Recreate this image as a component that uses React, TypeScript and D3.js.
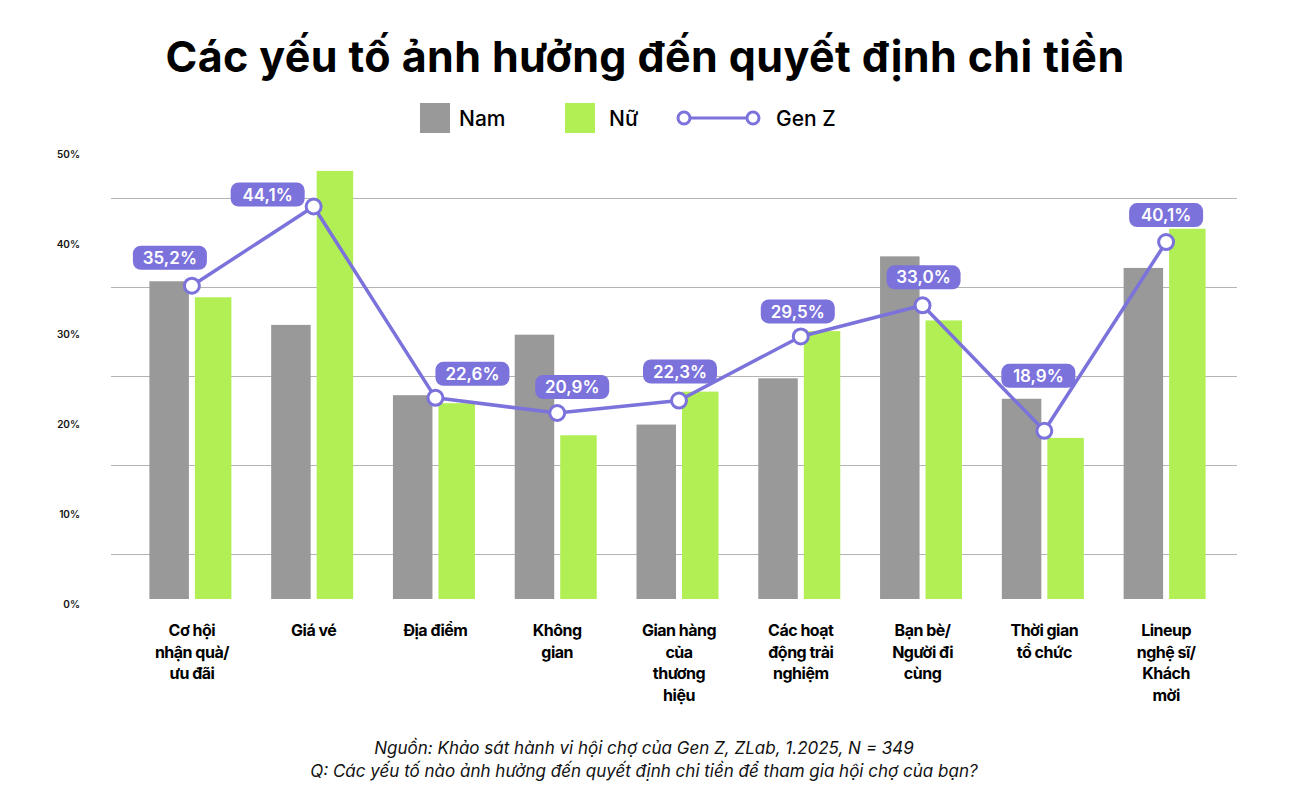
import React from "react";
import * as d3 from "d3";

const categories: string[][] = [
  ["Cơ hội", "nhận quà/", "ưu đãi"],
  ["Giá vé"],
  ["Địa điểm"],
  ["Không", "gian"],
  ["Gian hàng", "của", "thương", "hiệu"],
  ["Các hoạt", "động trải", "nghiệm"],
  ["Bạn bè/", "Người đi", "cùng"],
  ["Thời gian", "tổ chức"],
  ["Lineup", "nghệ sĩ/", "Khách", "mời"],
];
const namValues = [35.7, 30.8, 22.9, 29.7, 19.6, 24.8, 38.5, 22.5, 37.2];
const nuValues = [33.9, 48.1, 22.0, 18.4, 23.3, 30.1, 31.3, 18.1, 41.6];
const genZValues = [35.2, 44.1, 22.6, 20.9, 22.3, 29.5, 33.0, 18.9, 40.1];
const genZLabels = ["35,2%", "44,1%", "22,6%", "20,9%", "22,3%", "29,5%", "33,0%", "18,9%", "40,1%"];
const yTicks = [0, 10, 20, 30, 40, 50];
const gridValues = [5, 15, 25, 35, 45];
const seriesNames = ["Nam", "Nữ", "Gen Z"];
const title = "Các yếu tố ảnh hưởng đến quyết định chi tiền";
const footer = [
  "Nguồn: Khảo sát hành vi hội chợ của Gen Z, ZLab, 1.2025, N = 349",
  "Q: Các yếu tố nào ảnh hưởng đến quyết định chi tiền để tham gia hội chợ của bạn?",
];

// label badge offsets (layout)
const badgeOffsets: [number, number][] = [
  [-22, -28], [-46, -12], [37, -24], [15, -26], [1, -29], [-3, -25], [1, -28], [-6, -55], [0, -27],
];

const W = 1291;
const H = 812;
const GRAY = "#999999";
const GREEN = "#b1ef55";
const PURPLE = "#7b72db";
const FONT = "Inter, 'Noto Sans', sans-serif";

export default function App() {
  const idx = categories.map((_, i) => String(i));
  const x = d3.scaleBand<string>().domain(idx).range([131, 1227]).padding(0);
  const y = d3.scaleLinear().domain([0, 50]).range([599, 154]);
  const yLab = d3.scaleLinear().domain([0, 50]).range([604, 154]);
  const cx = (i: number) => (x(String(i)) as number) + x.bandwidth() / 2;

  const line = d3
    .line<number>()
    .x((_, i) => cx(i))
    .y((d) => y(d));

  const namW = 39.5;
  const nuW = 36.5;

  return (
    <svg
      width={W}
      height={H}
      viewBox={`0 0 ${W} ${H}`}
      style={{ position: "absolute", left: 0, top: 0, background: "#fff" }}
      fontFamily={FONT}
    >
      <rect width={W} height={H} fill="#fff" />
      <text x={645} y={72} textAnchor="middle" fontSize={43} fontWeight={700} letterSpacing={0.4} fill="#000">
        {title}
      </text>

      {/* legend */}
      <rect x={420} y={103} width={30} height={30} fill={GRAY} />
      <text x={459} y={125.5} fontSize={21} fontWeight={500} fill="#000">{seriesNames[0]}</text>
      <rect x={565} y={103} width={30} height={30} fill={GREEN} />
      <text x={609} y={125.5} fontSize={21} fontWeight={500} fill="#000">{seriesNames[1]}</text>
      <line x1={683} x2={753} y1={118} y2={118} stroke={PURPLE} strokeWidth={3} />
      <circle cx={684} cy={118} r={6} fill="#fff" stroke={PURPLE} strokeWidth={3} />
      <circle cx={753} cy={118} r={6} fill="#fff" stroke={PURPLE} strokeWidth={3} />
      <text x={776} y={125.5} fontSize={21} fontWeight={500} fill="#000">{seriesNames[2]}</text>

      {/* y tick labels */}
      {yTicks.map((t) => (
        <text key={t} x={80} y={yLab(t)} dy="0.35em" textAnchor="end" fontSize={10} fontWeight={600} fill="#111">
          {t}%
        </text>
      ))}

      {/* grid */}
      {gridValues.map((g) => (
        <line key={g} x1={111} x2={1237} y1={y(g)} y2={y(g)} stroke="#b3b3b3" strokeWidth={1} />
      ))}

      {/* bars */}
      {namValues.map((v, i) => (
        <rect key={"n" + i} x={cx(i) - 42.5} y={y(v)} width={namW} height={y(0) - y(v)} fill={GRAY} />
      ))}
      {nuValues.map((v, i) => (
        <rect key={"f" + i} x={cx(i) + 3} y={y(v)} width={nuW} height={y(0) - y(v)} fill={GREEN} />
      ))}

      {/* line */}
      <path d={line(genZValues) || ""} fill="none" stroke={PURPLE} strokeWidth={3.5} strokeLinejoin="round" />
      {genZValues.map((v, i) => (
        <circle key={"c" + i} cx={cx(i)} cy={y(v)} r={7.5} fill="#fff" stroke={PURPLE} strokeWidth={3} />
      ))}

      {/* badges */}
      {genZValues.map((v, i) => {
        const bx = cx(i) + badgeOffsets[i][0];
        const by = y(v) + badgeOffsets[i][1];
        return (
          <g key={"b" + i}>
            <rect x={bx - 37} y={by - 12} width={74} height={24} rx={8} fill={PURPLE} />
            <text x={bx} y={by} dy="0.36em" textAnchor="middle" fontSize={17} fontWeight={600} fill="#fff">
              {genZLabels[i]}
            </text>
          </g>
        );
      })}

      {/* x labels */}
      {categories.map((lines, i) => (
        <text key={"x" + i} x={cx(i)} y={636} textAnchor="middle" fontSize={16} fontWeight={700} letterSpacing={-0.5} fill="#000">
          {lines.map((l, j) => (
            <tspan key={j} x={cx(i)} dy={j === 0 ? 0 : 21.5}>
              {l}
            </tspan>
          ))}
        </text>
      ))}

      {/* footer */}
      {footer.map((f, j) => (
        <text key={"ft" + j} x={644} y={754 + j * 23} textAnchor="middle" fontSize={17} fontStyle="italic" fill="#111">
          {f}
        </text>
      ))}
    </svg>
  );
}
